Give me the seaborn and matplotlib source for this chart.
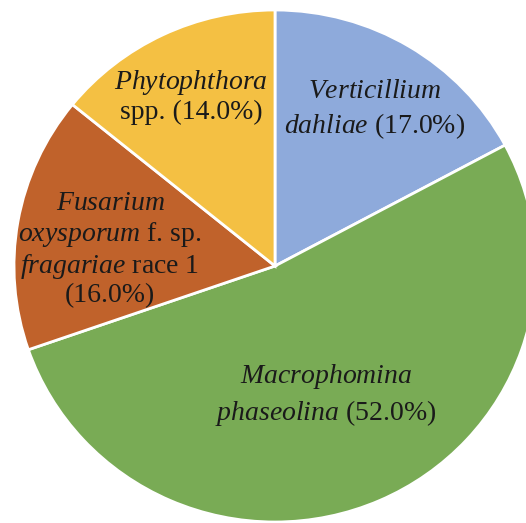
import matplotlib
matplotlib.use("Agg")
import matplotlib.pyplot as plt
import seaborn as sns

sns.set_style("white")
plt.rcParams['font.family'] = ['Liberation Serif', 'DejaVu Serif']
plt.rcParams['mathtext.fontset'] = 'custom'
plt.rcParams['mathtext.rm'] = 'Liberation Serif'
plt.rcParams['mathtext.it'] = 'Liberation Serif:italic'

# data
species = ["Verticillium dahliae", "Macrophomina phaseolina",
           "Fusarium oxysporum f. sp. fragariae race 1", "Phytophthora spp."]
shares = [17.0, 52.0, 16.0, 14.0]
colors = ["#8eaadb", "#79ab55", "#c0622b", "#f4c043"]
labels = [
    r"$\mathit{Verticillium}$" + "\n" + r"$\mathit{dahliae}$ (17.0%)",
    r"$\mathit{Macrophomina}$" + "\n" + r"$\mathit{phaseolina}$ (52.0%)",
    r"$\mathit{Fusarium}$" + "\n" + r"$\mathit{oxysporum}$ f. sp." + "\n"
    + r"$\mathit{fragariae}$ race 1" + "\n" + "(16.0%)",
    r"$\mathit{Phytophthora}$" + "\n" + "spp. (14.0%)",
]
# label centres (data units, pie radius = 1)
label_pos = [(0.383, 0.609), (0.195, -0.504), (-0.632, 0.0625), (-0.322, 0.664)]
label_spacing = [1.3, 1.3, 1.15, 1.15]

fig = plt.figure(figsize=(5.26, 5.23), dpi=100)
ax = fig.add_axes([0, 0, 1, 1])
ax.pie(shares, colors=colors, startangle=90, counterclock=False,
       wedgeprops=dict(edgecolor="white", linewidth=2))
for lab, (x, y), ls in zip(labels, label_pos, label_spacing):
    ax.text(x, y, lab, ha="center", va="center", fontsize=20,
            color="#1a1a1a", linespacing=ls)

cx, cy, rx, ry = 275, 266, 261, 256
ax.set_xlim(-cx / rx, (526 - cx) / rx)
ax.set_ylim(-(523 - cy) / ry, cy / ry)
ax.set_aspect("auto")
ax.axis("off")
fig.savefig("out.png", dpi=100, facecolor="white")
